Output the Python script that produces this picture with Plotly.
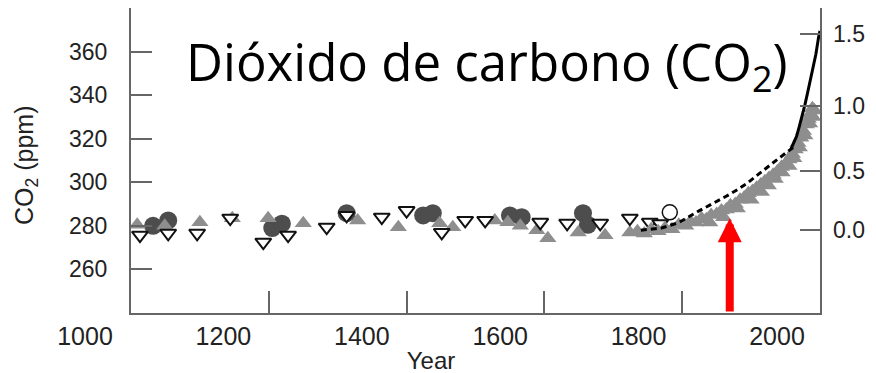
import numpy as np
import plotly.graph_objects as go

# ---------------- data ----------------
x_tick_labels = [1000, 1200, 1400, 1600, 1800, 2000]
x_inner_ticks = [1200, 1400, 1600, 1800]
y_ticks = [260, 280, 300, 320, 340, 360]
forcing_ticks = [0.0, 0.5, 1.0, 1.5]

circ_year = [1032, 1054, 1205, 1219, 1313, 1424, 1438, 1550, 1567, 1656, 1663]
circ_ppm = [280.0, 282.5, 279.0, 281.0, 285.8, 284.8, 285.8, 284.8, 284.0, 285.8, 280.5]

tri_year = [1009, 1049, 1100, 1147, 1199, 1250, 1329, 1388, 1448, 1467, 1528, 1547,
            1565, 1589, 1605, 1649, 1688, 1724]
tri_ppm = [280.5, 280.0, 281.6, 283.5, 283.5, 281.2, 282.5, 279.4, 281.2, 279.4, 282.5, 281.6,
           280.0, 278.0, 274.3, 277.0, 275.7, 277.0]

open_year = [1013, 1054, 1096, 1144, 1192, 1228, 1284, 1313, 1364, 1400, 1451, 1485, 1514,
             1594, 1633, 1681, 1724, 1753, 1768]
open_ppm = [275.7, 276.6, 276.6, 283.5, 272.5, 275.7, 279.4, 284.8, 284.0, 287.0, 277.0, 282.5, 282.5,
            281.6, 281.2, 281.2, 283.5, 281.6, 281.0]

ocirc_year = [1782]
ocirc_ppm = [286.2]

band_year = [1735, 1745, 1755, 1765, 1775, 1785, 1795, 1805, 1812, 1820, 1828, 1835, 1842,
             1850, 1857, 1864, 1870, 1877, 1884, 1890, 1896, 1902, 1908, 1914, 1920, 1926,
             1932, 1938, 1944, 1950, 1955, 1960, 1964, 1968, 1972, 1976, 1980, 1983, 1986,
             1989, 1992,
             1840, 1860, 1880, 1900, 1915, 1925, 1935, 1945, 1955, 1962, 1970, 1978, 1985, 1990]
band_ppm = [277.5, 276.5, 278.5, 277.5, 279.0, 278.5, 280.5, 280.0, 282.0, 281.5, 283.5, 283.0, 285.0,
            285.5, 287.0, 287.5, 289.5, 290.0, 292.0, 293.0, 295.0, 296.0, 297.5, 299.0, 300.5, 302.0,
            303.5, 305.0, 307.0, 308.5, 310.5, 313.0, 315.0, 318.0, 320.5, 323.5, 326.5, 329.0, 331.5,
            334.0, 333.0,
            281.5, 284.0, 288.0, 292.0, 295.5, 298.5, 301.5, 304.5, 307.5, 311.0, 316.0, 321.5, 327.0, 330.0]

dash_year = [1740, 1770, 1795, 1811, 1825, 1840, 1855, 1869, 1882, 1894, 1906, 1917, 1930, 1942, 1952, 1961]
dash_ppm = [278.0, 279.0, 281.5, 284.5, 287.0, 289.5, 292.0, 294.5, 297.0, 299.5, 302.5, 305.4, 308.5, 311.4, 313.8, 316.0]

ml_year = [1958, 1962, 1966, 1970, 1974, 1978, 1982, 1986, 1990, 1994, 1998, 2000]
ml_ppm = [315.3, 318.3, 321.1, 325.7, 330.2, 335.4, 341.1, 347.1, 354.2, 358.8, 366.7, 369.5]

arrow_year = 1869
arrow_tip_ppm = 283.5

# radiative forcing axis (log relation to CO2)
forcing_ppm = [278 * np.exp(f / 5.35) for f in forcing_ticks]
forcing_text = ["%.1f" % f for f in forcing_ticks]

W, H = 876, 373
OFF = 8            # page body margin in the browser
PLOT_H = 305       # plot area height (margin t=0, b=68)
AX = "#666666"
TXT = "#222222"
FONT = "Liberation Sans, Arial, sans-serif"


def px_x(p):
    return (p - OFF) / W


def px_y(p):
    return (PLOT_H - (p - OFF)) / PLOT_H


fig = go.Figure()
fig.add_trace(go.Scatter(x=circ_year, y=circ_ppm, mode="markers",
                         marker=dict(symbol="circle", size=18, color="#4d4d4d"),
                         showlegend=False, hoverinfo="skip"))
fig.add_trace(go.Scatter(x=tri_year, y=tri_ppm, mode="markers",
                         marker=dict(symbol="triangle-up", size=15, color="#8e8e8e"),
                         showlegend=False, hoverinfo="skip"))
fig.add_trace(go.Scatter(x=open_year, y=open_ppm, mode="markers",
                         marker=dict(symbol="triangle-down", size=14, color="white",
                                     line=dict(color="#111111", width=2)),
                         showlegend=False, hoverinfo="skip"))
fig.add_trace(go.Scatter(x=ocirc_year, y=ocirc_ppm, mode="markers",
                         marker=dict(symbol="circle", size=15, color="white",
                                     line=dict(color="#111111", width=1.5)),
                         showlegend=False, hoverinfo="skip"))
fig.add_trace(go.Scatter(x=band_year, y=band_ppm, mode="markers",
                         marker=dict(symbol="triangle-up", size=15, color="#8e8e8e"),
                         showlegend=False, hoverinfo="skip"))
fig.add_trace(go.Scatter(x=dash_year, y=dash_ppm, mode="lines",
                         line=dict(color="black", width=3, dash="6px,4px"),
                         showlegend=False, hoverinfo="skip"))
fig.add_trace(go.Scatter(x=ml_year, y=ml_ppm, mode="lines",
                         line=dict(color="black", width=3),
                         showlegend=False, hoverinfo="skip"))
# helper traces to activate the label axis and the right axis
fig.add_trace(go.Scatter(x=[None], y=[None], xaxis="x2", yaxis="y", showlegend=False, hoverinfo="skip"))
fig.add_trace(go.Scatter(x=[None], y=[None], xaxis="x", yaxis="y2", showlegend=False, hoverinfo="skip"))

fig.update_layout(
    width=W, height=H,
    margin=dict(l=0, r=0, t=0, b=H - PLOT_H, autoexpand=False),
    paper_bgcolor="white", plot_bgcolor="rgba(0,0,0,0)",
    font=dict(family=FONT, color=TXT),
    xaxis=dict(domain=[px_x(131), px_x(820)], range=[1000, 2000], automargin=False,
               showline=True, linecolor=AX, linewidth=2, mirror=True,
               ticks="inside", ticklen=22, tickwidth=2, tickcolor=AX,
               tickvals=x_inner_ticks, showticklabels=False,
               showgrid=False, zeroline=False),
    xaxis2=dict(domain=[px_x(85), px_x(777)], range=[1000, 2000], anchor="y", automargin=False,
                showline=False, ticks="", tickvals=x_tick_labels,
                ticktext=[str(v) for v in x_tick_labels],
                tickfont=dict(size=25, color=TXT, family=FONT),
                ticklabelstandoff=6,
                showgrid=False, zeroline=False,
                title=dict(text="Year", font=dict(size=24, color=TXT, family=FONT), standoff=3)),
    yaxis=dict(domain=[0, 1], range=[240, 380], anchor="x", automargin=False,
               showline=True, linecolor=AX, linewidth=2, mirror=True,
               ticks="inside", ticklen=21, tickwidth=2, tickcolor=AX,
               tickvals=y_ticks, tickfont=dict(size=23, color=TXT, family=FONT),
               ticklabelstandoff=17, showgrid=False, zeroline=False),
    yaxis2=dict(overlaying="y", side="right", anchor="x", range=[240, 380], automargin=False,
                showline=False, ticks="inside", ticklen=20, tickwidth=2, tickcolor=AX,
                tickvals=forcing_ppm, ticktext=forcing_text,
                tickfont=dict(size=23, color=TXT, family=FONT),
                ticklabelstandoff=12, showgrid=False, zeroline=False),
    annotations=[
        dict(text="Dióxido de carbono (CO<sub><span style='font-size:36px'>2</span></sub>)",
             xref="paper", yref="paper",
             x=px_x(487), y=px_y(64), xanchor="center", yanchor="middle",
             showarrow=False, font=dict(family="Open Sans, Noto Sans, sans-serif", size=51, color="black")),
        dict(text="CO<sub>2</sub> (ppm)", xref="paper", yref="paper",
             x=px_x(26), y=px_y(166), xanchor="center", yanchor="middle",
             textangle=-90, showarrow=False, font=dict(family=FONT, size=25, color=TXT)),
        dict(text="", x=arrow_year, y=arrow_tip_ppm, ax=arrow_year, ay=240,
             xref="x", yref="y", axref="x", ayref="y", showarrow=True,
             arrowhead=2, arrowsize=0.6, arrowwidth=8, arrowcolor="red", standoff=0),
    ],
)

fig.write_html("out.html")
